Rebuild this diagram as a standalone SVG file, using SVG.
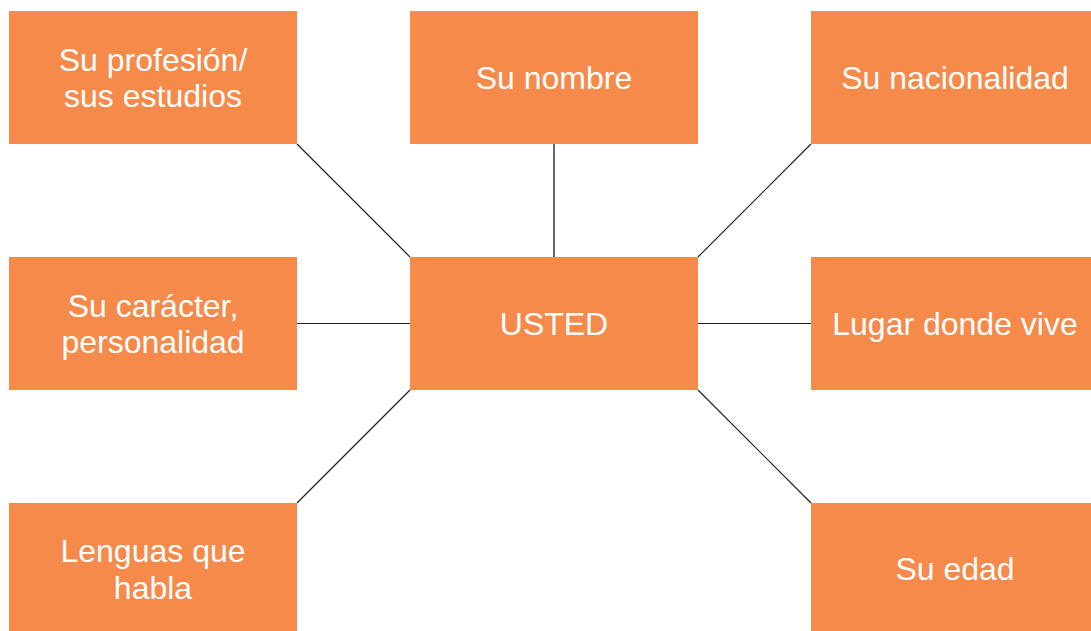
<svg xmlns="http://www.w3.org/2000/svg" width="1091" height="631" viewBox="0 0 1091 631">
<style>
.box{fill:#F58A4A}
.t{fill:#FFFFFF;font-family:"Liberation Sans",Arial,sans-serif;font-size:32px;text-anchor:middle}
.ln{stroke:#222;stroke-width:1.2;fill:none}
.lg{stroke:#666;stroke-width:2;fill:none}
</style>
<rect width="1091" height="631" fill="#FFFFFF"/>
<g id="connectors">
<line class="ln" x1="297" y1="144" x2="410" y2="257"/>
<line class="lg" x1="554" y1="144" x2="554" y2="257"/>
<line class="ln" x1="811" y1="144" x2="698" y2="257"/>
<line class="ln" x1="297" y1="323.5" x2="410" y2="323.5"/>
<line class="ln" x1="698" y1="323.5" x2="811" y2="323.5"/>
<line class="ln" x1="410" y1="390" x2="297" y2="503"/>
<line class="ln" x1="698" y1="390" x2="811" y2="503"/>
</g>
<g id="n-profesion"><rect class="box" x="9" y="11" width="288" height="133"/><text class="t" x="153" y="71">Su profesión/</text><text class="t" x="153" y="107">sus estudios</text></g>
<g id="n-nombre"><rect class="box" x="410" y="11" width="288" height="133"/><text class="t" x="554" y="89">Su nombre</text></g>
<g id="n-nacionalidad"><rect class="box" x="811" y="11" width="288" height="133"/><text class="t" x="955" y="89">Su nacionalidad</text></g>
<g id="n-caracter"><rect class="box" x="9" y="257" width="288" height="133"/><text class="t" x="153" y="317">Su carácter,</text><text class="t" x="153" y="353">personalidad</text></g>
<g id="n-usted"><rect class="box" x="410" y="257" width="288" height="133"/><text class="t" x="554" y="335">USTED</text></g>
<g id="n-lugar"><rect class="box" x="811" y="257" width="288" height="133"/><text class="t" x="955" y="335">Lugar donde vive</text></g>
<g id="n-lenguas"><rect class="box" x="9" y="503" width="288" height="133"/><text class="t" x="153" y="562">Lenguas que</text><text class="t" x="153" y="599">habla</text></g>
<g id="n-edad"><rect class="box" x="811" y="503" width="288" height="133"/><text class="t" x="955" y="580">Su edad</text></g>
</svg>
